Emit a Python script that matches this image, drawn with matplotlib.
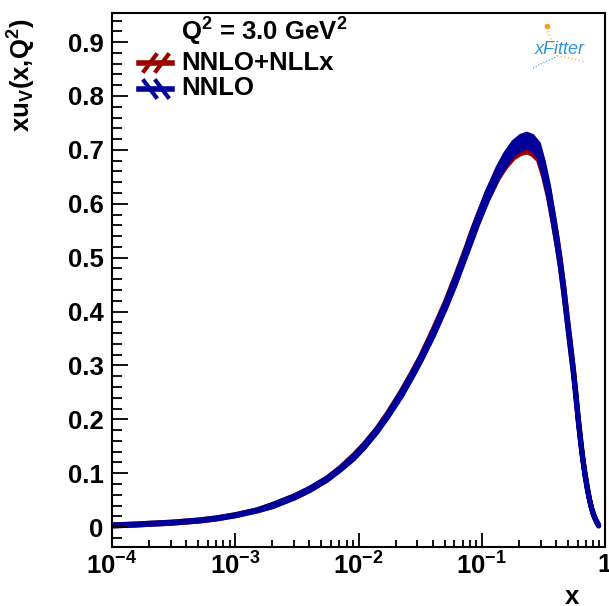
import matplotlib
matplotlib.use("Agg")
import matplotlib.pyplot as plt
import numpy as np
from matplotlib.lines import Line2D

plt.rcParams['font.family'] = ['Liberation Sans', 'DejaVu Sans']
plt.rcParams['font.weight'] = 'bold'
plt.rcParams['mathtext.fontset'] = 'custom'
plt.rcParams['mathtext.rm'] = 'Liberation Sans:bold'
plt.rcParams['mathtext.it'] = 'Liberation Sans:bold'
plt.rcParams['mathtext.bf'] = 'Liberation Sans:bold'
plt.rcParams['mathtext.default'] = 'rm'

# x grid of the valence-up distribution at Q^2 = 3 GeV^2
x_vals = [1e-4, 1.5e-4, 2e-4, 3e-4, 5e-4, 7e-4, 1e-3, 1.5e-3, 2e-3, 3e-3,
          4e-3, 5.5e-3, 7e-3, 9e-3, 1.1e-2, 1.4e-2, 1.7e-2, 2.2e-2, 2.7e-2, 3.16e-2,
          4e-2, 5e-2, 6e-2, 7.3e-2, 8.2e-2, 9.2e-2, 0.11, 0.135, 0.155, 0.18,
          0.205, 0.23, 0.255, 0.286, 0.314, 0.345, 0.378, 0.405, 0.43, 0.46,
          0.49, 0.52, 0.55, 0.575, 0.60, 0.625, 0.65, 0.68, 0.71, 0.74,
          0.77, 0.80, 0.83, 0.86, 0.88]

# NNLO central values and uncertainty half-widths
nnlo_central = [0.004, 0.0055, 0.007, 0.009, 0.013, 0.017, 0.023, 0.032, 0.041, 0.057,
                0.071, 0.090, 0.108, 0.130, 0.151, 0.180, 0.207, 0.247, 0.283, 0.312,
                0.360, 0.410, 0.455, 0.507, 0.539, 0.570, 0.615, 0.660, 0.684, 0.704,
                0.714, 0.718, 0.714, 0.701, 0.668, 0.625, 0.572, 0.530, 0.490, 0.438,
                0.384, 0.335, 0.288, 0.245, 0.202, 0.165, 0.132, 0.100, 0.074, 0.053,
                0.036, 0.024, 0.015, 0.008, 0.004]
nnlo_err = [0.001, 0.001, 0.001, 0.001, 0.001, 0.001, 0.001, 0.001, 0.002, 0.002,
            0.002, 0.002, 0.002, 0.003, 0.003, 0.003, 0.003, 0.004, 0.004, 0.004,
            0.005, 0.005, 0.006, 0.006, 0.007, 0.007, 0.008, 0.009, 0.010, 0.011,
            0.012, 0.012, 0.012, 0.011, 0.010, 0.009, 0.008, 0.007, 0.006, 0.006,
            0.005, 0.005, 0.004, 0.004, 0.003, 0.003, 0.002, 0.002, 0.002, 0.001,
            0.001, 0.001, 0.001, 0.001, 0.001]

# NNLO+NLLx central values and uncertainty half-widths
nllx_central = [0.004, 0.0055, 0.007, 0.009, 0.013, 0.017, 0.023, 0.032, 0.041, 0.057,
                0.071, 0.090, 0.109, 0.131, 0.152, 0.181, 0.209, 0.249, 0.285, 0.314,
                0.363, 0.413, 0.458, 0.510, 0.542, 0.572, 0.615, 0.657, 0.679, 0.697,
                0.706, 0.709, 0.705, 0.693, 0.662, 0.621, 0.571, 0.530, 0.491, 0.439,
                0.385, 0.336, 0.289, 0.246, 0.203, 0.166, 0.133, 0.101, 0.075, 0.053,
                0.036, 0.024, 0.015, 0.008, 0.004]
nllx_err = [0.001, 0.001, 0.001, 0.001, 0.001, 0.001, 0.001, 0.001, 0.002, 0.002,
            0.002, 0.002, 0.002, 0.003, 0.003, 0.003, 0.003, 0.004, 0.004, 0.004,
            0.005, 0.005, 0.006, 0.006, 0.007, 0.007, 0.008, 0.009, 0.010, 0.011,
            0.012, 0.012, 0.012, 0.011, 0.010, 0.009, 0.008, 0.007, 0.006, 0.006,
            0.005, 0.005, 0.004, 0.004, 0.003, 0.003, 0.002, 0.002, 0.002, 0.001,
            0.001, 0.001, 0.001, 0.001, 0.001]

x_tick_pos = [1e-4, 1e-3, 1e-2, 1e-1, 1]
x_tick_labels = [r'$10^{-4}$', r'$10^{-3}$', r'$10^{-2}$', r'$10^{-1}$', '1']
y_tick_pos = [0, 0.1, 0.2, 0.3, 0.4, 0.5, 0.6, 0.7, 0.8, 0.9]
y_tick_labels = ['0', '0.1', '0.2', '0.3', '0.4', '0.5', '0.6', '0.7', '0.8', '0.9']

RED = '#990000'
BLUE = '#000099'

fig = plt.figure(figsize=(6.09, 6.06), dpi=100)
ax = fig.add_axes([112 / 609, 59 / 606, 493 / 609, 534 / 606])

x = np.array(x_vals)
for cen, err, col in [(nllx_central, nllx_err, RED), (nnlo_central, nnlo_err, BLUE)]:
    cen = np.array(cen)
    err = np.array(err)
    ax.fill_between(x, cen - err, cen + err, facecolor=col, edgecolor=col,
                    linewidth=3.6, joinstyle='round', capstyle='round')

ax.set_xscale('log')
ax.set_xlim(1e-4, 1)
ax.set_ylim(-0.037, 0.954)

ax.set_xticks(x_tick_pos)
ax.set_xticklabels(x_tick_labels)
ax.set_yticks(y_tick_pos)
ax.set_yticklabels(y_tick_labels)
ax.xaxis.set_minor_locator(matplotlib.ticker.LogLocator(base=10, subs=np.arange(2, 10)))
ax.xaxis.set_minor_formatter(matplotlib.ticker.NullFormatter())
ax.yaxis.set_minor_locator(matplotlib.ticker.MultipleLocator(0.02))

ax.tick_params(axis='both', which='both', direction='in', top=False, right=False,
               width=1.3, labelsize=18.5)
ax.tick_params(axis='y', which='major', length=11.5, pad=6)
ax.tick_params(axis='y', which='minor', length=7)
ax.tick_params(axis='x', which='major', length=10, pad=4)
ax.tick_params(axis='x', which='minor', length=5)
for s in ax.spines.values():
    s.set_linewidth(1.5)

ax.set_xlabel('x', fontsize=18.5, fontweight='bold')
ax.xaxis.label.set_ha('center')
ax.xaxis.label.set_va('center')
ax.xaxis.set_label_coords(0.933, -0.094)

ax.set_ylabel(r'xu$_{V}$(x,Q$^{2}$)', fontsize=18.5, fontweight='bold')
ax.yaxis.label.set_ha('center')
ax.yaxis.label.set_va('center')
ax.yaxis.set_label_coords(-0.183, 0.884)

# legend block
def fx(px):
    return px / 609

def fy(py):
    return 1 - py / 606

fig.text(fx(181), fy(41), r'Q$^{2}$ = 3.0 GeV$^{2}$', fontsize=18.5, va='baseline', ha='left')
fig.text(fx(181), fy(70), 'NNLO+NLLx', fontsize=18.5, va='baseline', ha='left')
fig.text(fx(181), fy(95), 'NNLO', fontsize=18.5, va='baseline', ha='left')

for py, col, sgn in [(63, RED, 1), (89, BLUE, -1)]:
    fig.add_artist(Line2D([fx(139), fx(172)], [fy(py), fy(py)], color=col, lw=4.0,
                          transform=fig.transFigure))
    for cx in (150, 162):
        fig.add_artist(Line2D([fx(cx - 6 * sgn), fx(cx + 6 * sgn)], [fy(py + 8), fy(py - 8)],
                              color=col, lw=3.0, transform=fig.transFigure))

# xFitter logo
fig.text(fx(560), fy(50), 'xFitter', fontsize=13, style='italic', fontweight='normal',
         color='#2e95d8', ha='center', va='center')
fig.add_artist(Line2D([fx(546), fx(549), fx(553), fx(557)], [fy(24), fy(34), fy(44), fy(56)],
                      color='#f5c242', lw=1.0, ls=':', transform=fig.transFigure))
fig.add_artist(Line2D([fx(557), fx(570), fx(585)], [fy(56), fy(58), fy(62)],
                      color='#f5c242', lw=1.0, ls=':', transform=fig.transFigure))
fig.add_artist(Line2D([fx(533), fx(545), fx(556)], [fy(68), fy(62), fy(57)],
                      color='#2e95d8', lw=0.8, ls=':', transform=fig.transFigure))
fig.add_artist(Line2D([fx(547)], [fy(26)], marker='o', ms=3, color='#f0a020',
                      transform=fig.transFigure))

fig.savefig('out.png', dpi=100)
